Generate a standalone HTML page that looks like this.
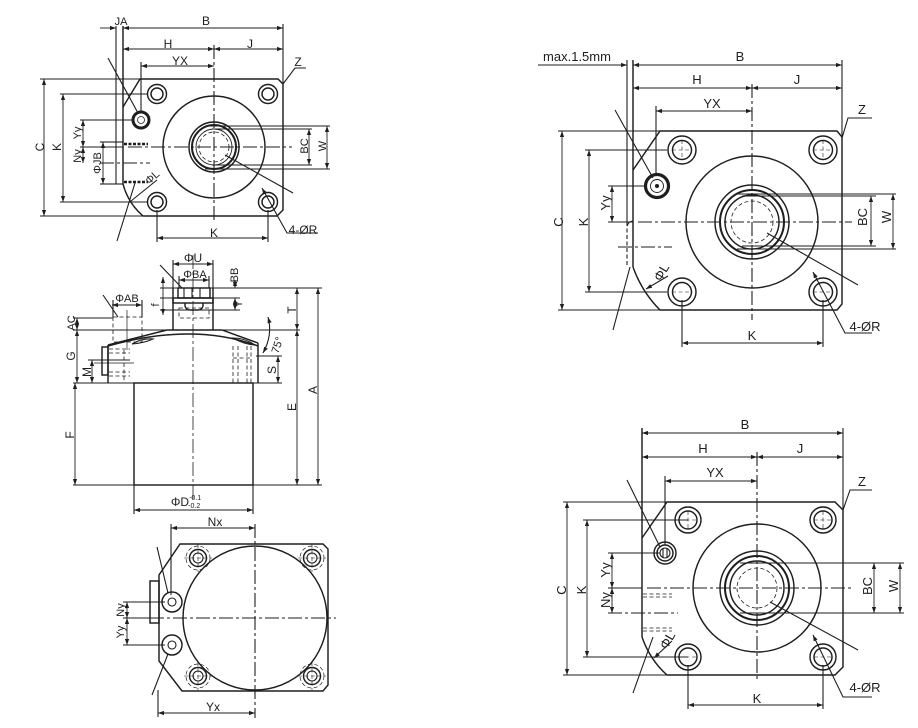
<!DOCTYPE html>
<html><head><meta charset="utf-8"><style>
html,body{margin:0;padding:0;background:#fff}
svg{display:block}
.l{stroke:#1e1e1e;stroke-width:1.1;fill:none}
.k{stroke-width:1.45}
.d{stroke-dasharray:4 2.5}
.c{stroke-dasharray:14 3 3 3}
text{font-family:"Liberation Sans",sans-serif;fill:#1e1e1e;font-size:12px}
.s{font-size:11px}
.m{font-size:13px}
</style></head><body>
<svg width="918" height="728" viewBox="0 0 918 728" xmlns="http://www.w3.org/2000/svg">
<defs><marker id="a" viewBox="0 0 10 10" refX="10" refY="5" markerWidth="7" markerHeight="6" orient="auto-start-reverse" markerUnits="userSpaceOnUse"><path d="M0,1.5 L10,5 L0,8.5z" fill="#1e1e1e"/></marker></defs>

<!-- ================= TOP-LEFT ================= -->
<g class="l">
<path class="k" d="M123,107 L140,79 L278,79 L283,84 L283,210 L277,216 L143,216 Q128,203 123,184"/>
<line class="k" x1="123" y1="26" x2="123" y2="184"/>
<line x1="116" y1="26" x2="116" y2="184"/>
<line x1="116" y1="184" x2="123" y2="184"/>
<line x1="116" y1="142" x2="123" y2="142"/>
<line x1="283" y1="24" x2="283" y2="84"/>
<line x1="40" y1="79" x2="140" y2="79"/>
<line x1="40" y1="216" x2="143" y2="216"/>
<line x1="60" y1="94" x2="148" y2="94"/>
<line x1="60" y1="202" x2="148" y2="202"/>
<line x1="80" y1="120" x2="133" y2="120"/>
<line x1="80" y1="147" x2="123" y2="147"/>
<line class="c" x1="128" y1="147" x2="292" y2="147"/>
<line class="c" x1="100" y1="163" x2="150" y2="163"/>
<line x1="100" y1="142" x2="116" y2="142"/>
<line x1="100" y1="184" x2="116" y2="184"/>
<line x1="141" y1="62" x2="141" y2="112"/>
<line class="c" x1="214" y1="45" x2="214" y2="222"/>
<line x1="205" y1="126" x2="330" y2="126"/>
<line x1="205" y1="169" x2="330" y2="169"/>
<line x1="212" y1="129" x2="312" y2="129"/>
<line x1="212" y1="165" x2="312" y2="165"/>
<line x1="157" y1="210" x2="157" y2="242"/>
<line x1="268" y1="210" x2="268" y2="242"/>
<line stroke-width="2.5" stroke-dasharray="3 1.5" x1="124" y1="144" x2="148" y2="144"/>
<line stroke-width="2.5" stroke-dasharray="3 1.5" x1="124" y1="182" x2="148" y2="182"/>
<g class="k">
<circle cx="157" cy="94" r="9.5"/><circle cx="157" cy="94" r="6"/>
<circle cx="268" cy="94" r="9.5"/><circle cx="268" cy="94" r="6"/>
<circle cx="157" cy="202" r="9.5"/><circle cx="157" cy="202" r="6"/>
<circle cx="268" cy="202" r="9.5"/><circle cx="268" cy="202" r="6"/>
<circle cx="214" cy="147" r="51"/>
<circle cx="214" cy="147" r="25"/>
<circle cx="214" cy="147" r="22" stroke-width="2"/>
<circle cx="214" cy="147" r="18" stroke-width="0.9"/>
</g>
<circle class="d" cx="214" cy="147" r="15" stroke-width="0.8"/>
<circle cx="141" cy="120" r="8" stroke-width="3"/>
<circle cx="141" cy="120" r="3.5" stroke-width="0.8"/>
<line x1="108" y1="58" x2="138" y2="113"/>
<line x1="117" y1="241" x2="135" y2="183"/>
<line x1="131" y1="201" x2="157" y2="180"/>
<line x1="225" y1="155" x2="293" y2="193"/>
<polyline points="283,84 295,68 306,68"/>
<polyline points="318,233 287,233 262,188" marker-end="url(#a)"/>
<g marker-start="url(#a)" marker-end="url(#a)" stroke-width="0.9">
<line x1="123" y1="28" x2="283" y2="28"/>
<line x1="123" y1="49" x2="214" y2="49"/>
<line x1="214" y1="49" x2="283" y2="49"/>
<line x1="141" y1="66" x2="214" y2="66"/>
<line x1="44" y1="79" x2="44" y2="216"/>
<line x1="63" y1="94" x2="63" y2="202"/>
<line x1="83" y1="120" x2="83" y2="147"/>
<line x1="83" y1="147" x2="83" y2="163"/>
<line x1="103" y1="142" x2="103" y2="184"/>
<line x1="309" y1="129" x2="309" y2="165"/>
<line x1="327" y1="126" x2="327" y2="169"/>
<line x1="157" y1="238" x2="268" y2="238"/>
</g>
<line x1="100" y1="28" x2="116" y2="28" marker-end="url(#a)" stroke-width="0.9"/>
</g>
<g text-anchor="middle">
<text class="s" x="121" y="25">JA</text>
<text x="206" y="25">B</text>
<text x="168" y="48">H</text>
<text x="250" y="48">J</text>
<text x="180" y="65">YX</text>
<text x="298" y="66">Z</text>
<text x="303" y="234">4-ØR</text>
<text x="214" y="237">K</text>
<text transform="rotate(-90 40 147)" x="40" y="151">C</text>
<text transform="rotate(-90 57 147)" x="57" y="151">K</text>
<text class="s" transform="rotate(-90 77 133)" x="77" y="137">Yy</text>
<text class="s" transform="rotate(-90 77 156)" x="77" y="160">Ny</text>
<text class="s" transform="rotate(-90 97 163)" x="97" y="167">ΦJB</text>
<text class="s" transform="rotate(-42 152 177)" x="152" y="181">ΦL</text>
<text class="s" transform="rotate(-90 304 146)" x="304" y="150">BC</text>
<text class="s" transform="rotate(-90 322 146)" x="322" y="150">W</text>
</g>

<!-- ================= MIDDLE-LEFT ================= -->
<g class="l">
<line x1="173" y1="260" x2="173" y2="288"/>
<line x1="213" y1="260" x2="213" y2="288"/>
<line x1="179" y1="276" x2="179" y2="288"/>
<line x1="209" y1="276" x2="209" y2="288"/>
<line class="k" x1="173" y1="288" x2="173" y2="330"/>
<line class="k" x1="213" y1="288" x2="213" y2="330"/>
<rect class="k" x="178" y="288" width="32" height="10"/>
<line x1="184" y1="288" x2="184" y2="298"/>
<line x1="192" y1="288" x2="192" y2="298"/>
<line x1="200" y1="288" x2="200" y2="298"/>
<rect class="k" x="173" y="298" width="40" height="5"/>
<path class="k" d="M185,303 L185,306 Q186,310 190,310 L198,310 Q202,310 203,306 L203,303"/>
<rect class="d" x="179" y="308" width="30" height="10" stroke-width="0.8"/>
<line x1="160" y1="288" x2="322" y2="288"/>
<line x1="160" y1="298" x2="240" y2="298"/>
<line x1="160" y1="310" x2="240" y2="310"/>
<line x1="73" y1="330" x2="300" y2="330"/>
<path class="k" d="M108,345 L167,330 L222,330 L258,343"/>
<path class="k" d="M108,346 Q193,322 258,346"/>
<path d="M132,344 Q142,338 153,339 Q144,343 132,344 Z"/>
<path d="M233,338 Q245,338 255,345 Q243,344 233,338 Z"/>
<line class="k" x1="108" y1="345" x2="108" y2="383"/>
<rect class="k" x="102" y="347" width="6" height="28"/>
<line class="k" x1="258" y1="343" x2="258" y2="383"/>
<g class="d" stroke-width="0.8">
<line x1="109" y1="349" x2="130" y2="349"/><line x1="109" y1="353" x2="130" y2="353"/>
<line x1="109" y1="372" x2="130" y2="372"/><line x1="109" y1="376" x2="130" y2="376"/>
<line x1="124" y1="350" x2="124" y2="383"/>
<line x1="233" y1="346" x2="233" y2="383"/><line x1="238" y1="346" x2="238" y2="383"/>
<line x1="247" y1="346" x2="247" y2="383"/><line x1="251" y1="346" x2="251" y2="383"/>
<line x1="233" y1="358" x2="251" y2="358"/>
</g>
<line x1="94" y1="363" x2="134" y2="363" stroke-width="0.8"/>
<line x1="73" y1="383" x2="282" y2="383"/>
<rect class="k" x="134" y="383" width="119" height="102"/>
<line x1="73" y1="485" x2="322" y2="485"/>
<line x1="256" y1="356" x2="282" y2="356"/>
<line x1="88" y1="360" x2="130" y2="360"/>
<line x1="73" y1="318" x2="113" y2="318"/>
<rect class="d" x="113" y="317" width="29" height="25" stroke-width="0.8"/>
<line x1="113" y1="300" x2="113" y2="317"/>
<line x1="142" y1="300" x2="142" y2="317"/>
<line x1="127" y1="310" x2="127" y2="350" stroke-width="0.7"/>
<line x1="134" y1="485" x2="134" y2="514"/>
<line x1="253" y1="485" x2="253" y2="514"/>
<line class="c" x1="193" y1="255" x2="193" y2="500" stroke-width="0.8"/>
<line x1="160" y1="265" x2="182" y2="288"/>
<line x1="103" y1="295" x2="118" y2="317"/>
<path d="M268,317 Q273,335 263,353" marker-start="url(#a)" marker-end="url(#a)"/>
<g marker-start="url(#a)" marker-end="url(#a)" stroke-width="0.9">
<line x1="173" y1="264" x2="213" y2="264"/>
<line x1="179" y1="280" x2="209" y2="280"/>
<line x1="235" y1="280" x2="235" y2="288"/>
<line x1="235" y1="298" x2="235" y2="310"/>
<line x1="163" y1="277" x2="163" y2="315"/>
<line x1="112" y1="305" x2="142" y2="305"/>
<line x1="77" y1="318" x2="77" y2="330"/>
<line x1="77" y1="330" x2="77" y2="383"/>
<line x1="92" y1="360" x2="92" y2="383"/>
<line x1="75" y1="383" x2="75" y2="485"/>
<line x1="297" y1="288" x2="297" y2="330"/>
<line x1="297" y1="330" x2="297" y2="485"/>
<line x1="318" y1="288" x2="318" y2="485"/>
<line x1="278" y1="356" x2="278" y2="383"/>
<line x1="134" y1="510" x2="253" y2="510"/>
</g>
</g>
<g text-anchor="middle">
<text x="193" y="262">ΦU</text>
<text class="s" x="195" y="278">ΦBA</text>
<text class="s" x="127" y="302">ΦAB</text>
<text class="s" transform="rotate(-90 234 275)" x="234" y="279">BB</text>
<text class="s" transform="rotate(-90 238 304)" x="238" y="308">Y</text>
<text class="s" transform="rotate(-90 155 305)" x="155" y="309">f</text>
<text class="s" transform="rotate(-90 71 323)" x="71" y="327">AC</text>
<text transform="rotate(-90 71 356)" x="71" y="360">G</text>
<text transform="rotate(-90 87 372)" x="87" y="376">M</text>
<text transform="rotate(-90 70 435)" x="70" y="439">F</text>
<text transform="rotate(-90 292 310)" x="292" y="314">T</text>
<text transform="rotate(-90 292 407)" x="292" y="411">E</text>
<text transform="rotate(-90 313 390)" x="313" y="394">A</text>
<text transform="rotate(-90 272 370)" x="272" y="374">S</text>
<text class="s" transform="rotate(-72 277 345)" x="277" y="349">75°</text>
<text x="186" y="506">ΦD<tspan font-size="7" dy="-6">-0.1</tspan><tspan font-size="7" dx="-13" dy="8">-0.2</tspan></text>
</g>

<!-- ================= BOTTOM-LEFT ================= -->
<g class="l">
<path class="k" d="M180,544 L323,544 L328,549 L328,685 L323,691 L182,691 L159,661 L159,575 Z"/>
<circle class="k" cx="255" cy="618" r="72"/>
<rect class="k" x="150" y="581" width="9" height="42"/>
<circle class="k" cx="172" cy="602" r="10"/><circle cx="172" cy="602" r="4"/>
<circle class="k" cx="172" cy="645" r="10"/><circle cx="172" cy="645" r="4"/>
<g>
<circle class="k" cx="198" cy="558" r="8.5"/><circle cx="198" cy="558" r="5"/><circle class="d" cx="198" cy="558" r="12" stroke-width="0.7"/>
<circle class="k" cx="312" cy="558" r="8.5"/><circle cx="312" cy="558" r="5"/><circle class="d" cx="312" cy="558" r="12" stroke-width="0.7"/>
<circle class="k" cx="198" cy="676" r="8.5"/><circle cx="198" cy="676" r="5"/><circle class="d" cx="198" cy="676" r="12" stroke-width="0.7"/>
<circle class="k" cx="312" cy="676" r="8.5"/><circle cx="312" cy="676" r="5"/><circle class="d" cx="312" cy="676" r="12" stroke-width="0.7"/>
</g>
<g class="d" stroke-width="0.6">
<line x1="184" y1="558" x2="212" y2="558"/><line x1="198" y1="544" x2="198" y2="572"/>
<line x1="298" y1="558" x2="326" y2="558"/><line x1="312" y1="544" x2="312" y2="572"/>
<line x1="184" y1="676" x2="212" y2="676"/><line x1="198" y1="662" x2="198" y2="690"/>
<line x1="298" y1="676" x2="326" y2="676"/><line x1="312" y1="662" x2="312" y2="690"/>
</g>
<line x1="171" y1="524" x2="171" y2="595"/>
<line class="c" x1="255" y1="524" x2="255" y2="718"/>
<line x1="123" y1="602" x2="165" y2="602"/>
<line x1="123" y1="645" x2="165" y2="645"/>
<line x1="123" y1="618" x2="150" y2="618"/>
<line class="c" x1="150" y1="618" x2="336" y2="618"/>
<line x1="158" y1="690" x2="158" y2="717"/>
<line x1="157" y1="547" x2="168" y2="593"/>
<line x1="168" y1="654" x2="152" y2="695"/>
<g marker-start="url(#a)" marker-end="url(#a)" stroke-width="0.9">
<line x1="171" y1="528" x2="255" y2="528"/>
<line x1="158" y1="713" x2="255" y2="713"/>
<line x1="127" y1="602" x2="127" y2="618"/>
<line x1="127" y1="618" x2="127" y2="645"/>
</g>
</g>
<g text-anchor="middle">
<text x="215" y="526">Nx</text>
<text x="213" y="711">Yx</text>
<text class="s" transform="rotate(-90 120 610)" x="120" y="614">Ny</text>
<text class="s" transform="rotate(-90 120 632)" x="120" y="636">Yy</text>
</g>

<!-- ================= TOP-RIGHT ================= -->
<g class="l">
<path class="k" d="M633,170 L660,131 L837,131 L842,137 L842,304 L837,310 L660,310 Q642,292 633,267"/>
<line class="k" x1="633" y1="60" x2="633" y2="267"/>
<line x1="627" y1="60" x2="627" y2="222"/>
<line class="d" x1="627" y1="222" x2="627" y2="267"/>
<path d="M627,226 Q629,221 633,221"/>
<line x1="842" y1="60" x2="842" y2="137"/>
<line x1="558" y1="131" x2="660" y2="131"/>
<line x1="558" y1="310" x2="660" y2="310"/>
<line x1="585" y1="150" x2="667" y2="150"/>
<line x1="585" y1="292" x2="667" y2="292"/>
<line x1="608" y1="186" x2="645" y2="186"/>
<line x1="608" y1="222" x2="633" y2="222"/>
<line class="c" x1="638" y1="222" x2="852" y2="222"/>
<line class="c" x1="618" y1="247" x2="672" y2="247"/>
<line x1="656" y1="106" x2="656" y2="176"/>
<line class="c" x1="752" y1="84" x2="752" y2="320"/>
<line x1="737" y1="194" x2="896" y2="194"/>
<line x1="737" y1="249" x2="896" y2="249"/>
<line x1="742" y1="196" x2="876" y2="196"/>
<line x1="742" y1="246" x2="876" y2="246"/>
<line x1="682" y1="300" x2="682" y2="347"/>
<line x1="823" y1="300" x2="823" y2="347"/>
<g class="k">
<circle cx="682" cy="150" r="14"/><circle cx="682" cy="150" r="9.5"/>
<circle cx="823" cy="150" r="14"/><circle cx="823" cy="150" r="9.5"/>
<circle cx="682" cy="292" r="14"/><circle cx="682" cy="292" r="9.5"/>
<circle cx="823" cy="292" r="14"/><circle cx="823" cy="292" r="9.5"/>
<circle cx="752" cy="222" r="66"/>
<circle cx="752" cy="222" r="37"/>
<circle cx="752" cy="222" r="32" stroke-width="2"/>
<circle cx="752" cy="222" r="27"/>
</g>
<circle class="d" cx="752" cy="222" r="21" stroke-width="0.8"/>
<g class="d" stroke-width="0.6">
<line x1="672" y1="150" x2="692" y2="150"/><line x1="682" y1="140" x2="682" y2="160"/>
<line x1="813" y1="150" x2="833" y2="150"/><line x1="823" y1="140" x2="823" y2="160"/>
<line x1="672" y1="292" x2="692" y2="292"/>
<line x1="813" y1="292" x2="833" y2="292"/>
</g>
<circle cx="657" cy="186" r="11.5" stroke-width="3.2"/>
<circle cx="657" cy="186" r="6.5" stroke-width="0.9"/>
<circle cx="657" cy="186" r="1.5" fill="#1e1e1e"/>
<line x1="615" y1="110" x2="653" y2="178"/>
<line x1="613" y1="330" x2="630" y2="267"/>
<line x1="668" y1="276" x2="646" y2="289" marker-end="url(#a)"/>
<line x1="767" y1="233" x2="858" y2="285"/>
<polyline points="842,138 848,118 872,118"/>
<polyline points="872,333 845,333 813,272" marker-end="url(#a)"/>
<line x1="538" y1="65" x2="627" y2="65" marker-end="url(#a)" stroke-width="0.9"/>
<g marker-start="url(#a)" marker-end="url(#a)" stroke-width="0.9">
<line x1="633" y1="65" x2="842" y2="65"/>
<line x1="633" y1="88" x2="752" y2="88"/>
<line x1="752" y1="88" x2="842" y2="88"/>
<line x1="656" y1="111" x2="752" y2="111"/>
<line x1="562" y1="131" x2="562" y2="310"/>
<line x1="589" y1="150" x2="589" y2="292"/>
<line x1="612" y1="186" x2="612" y2="222"/>
<line x1="871" y1="196" x2="871" y2="246"/>
<line x1="893" y1="194" x2="893" y2="249"/>
<line x1="682" y1="343" x2="823" y2="343"/>
</g>
</g>
<g text-anchor="middle" class="m">
<text class="m" x="577" y="61">max.1.5mm</text>
<text class="m" x="740" y="61">B</text>
<text class="m" x="697" y="84">H</text>
<text class="m" x="797" y="84">J</text>
<text class="m" x="712" y="108">YX</text>
<text class="m" x="862" y="114">Z</text>
<text class="m" x="865" y="331">4-ØR</text>
<text class="m" x="752" y="340">K</text>
<text class="m" transform="rotate(-90 558 222)" x="558" y="227">C</text>
<text class="m" transform="rotate(-90 583 222)" x="583" y="227">K</text>
<text class="m" transform="rotate(-90 605 203)" x="605" y="208">Yy</text>
<text class="m" transform="rotate(-60 661 272)" x="661" y="277">ΦL</text>
<text class="m" transform="rotate(-90 862 217)" x="862" y="222">BC</text>
<text class="m" transform="rotate(-90 886 217)" x="886" y="222">W</text>
</g>

<!-- ================= BOTTOM-RIGHT ================= -->
<g class="l">
<path class="k" d="M642,538 L667,502 L835,502 L843,510 L843,667 L835,675 L667,675 Q650,660 642,637"/>
<line class="k" x1="642" y1="428" x2="642" y2="637"/>
<line x1="843" y1="428" x2="843" y2="510"/>
<line x1="563" y1="502" x2="667" y2="502"/>
<line x1="563" y1="675" x2="667" y2="675"/>
<line x1="583" y1="520" x2="688" y2="520"/>
<line x1="583" y1="657" x2="688" y2="657"/>
<line x1="608" y1="553" x2="660" y2="553"/>
<line x1="608" y1="588" x2="642" y2="588"/>
<line class="c" x1="647" y1="588" x2="852" y2="588"/>
<line class="c" x1="608" y1="613" x2="678" y2="613"/>
<line x1="665" y1="476" x2="665" y2="545"/>
<line class="c" x1="757" y1="452" x2="757" y2="682"/>
<line x1="740" y1="563" x2="904" y2="563"/>
<line x1="740" y1="613" x2="904" y2="613"/>
<line x1="688" y1="665" x2="688" y2="709"/>
<line x1="823" y1="665" x2="823" y2="709"/>
<g class="d" stroke-width="0.8">
<line x1="643" y1="594" x2="672" y2="594"/><line x1="643" y1="597" x2="672" y2="597"/>
<line x1="643" y1="628" x2="672" y2="628"/><line x1="643" y1="631" x2="672" y2="631"/>
</g>
<g class="k">
<circle cx="688" cy="520" r="13"/><circle cx="688" cy="520" r="9"/>
<circle cx="823" cy="520" r="13"/><circle cx="823" cy="520" r="9"/>
<circle cx="688" cy="657" r="13"/><circle cx="688" cy="657" r="9"/>
<circle cx="823" cy="657" r="13"/><circle cx="823" cy="657" r="9"/>
<circle cx="757" cy="588" r="64"/>
<circle cx="757" cy="588" r="37"/>
<circle cx="757" cy="588" r="32" stroke-width="2"/>
<circle cx="757" cy="588" r="27"/>
</g>
<circle class="d" cx="757" cy="588" r="20" stroke-width="0.8"/>
<g class="d" stroke-width="0.6">
<line x1="679" y1="520" x2="697" y2="520"/><line x1="688" y1="511" x2="688" y2="529"/>
<line x1="814" y1="520" x2="832" y2="520"/><line x1="823" y1="511" x2="823" y2="529"/>
<line x1="679" y1="657" x2="697" y2="657"/>
<line x1="814" y1="657" x2="832" y2="657"/>
</g>
<circle class="k" cx="665" cy="553" r="11"/>
<circle cx="665" cy="553" r="8" stroke-width="1.5"/>
<circle cx="665" cy="553" r="5"/>
<line x1="663" y1="548" x2="663" y2="558"/><line x1="667" y1="548" x2="667" y2="558"/>
<line x1="627" y1="480" x2="660" y2="547"/>
<line x1="633" y1="693" x2="653" y2="637"/>
<line x1="672" y1="641" x2="654" y2="658" marker-end="url(#a)"/>
<line x1="770" y1="602" x2="858" y2="650"/>
<polyline points="843,510 850,490 872,490"/>
<polyline points="872,697 843,697 813,635" marker-end="url(#a)"/>
<g marker-start="url(#a)" marker-end="url(#a)" stroke-width="0.9">
<line x1="642" y1="433" x2="843" y2="433"/>
<line x1="642" y1="457" x2="757" y2="457"/>
<line x1="757" y1="457" x2="843" y2="457"/>
<line x1="665" y1="481" x2="757" y2="481"/>
<line x1="567" y1="502" x2="567" y2="675"/>
<line x1="587" y1="520" x2="587" y2="657"/>
<line x1="612" y1="553" x2="612" y2="588"/>
<line x1="612" y1="588" x2="612" y2="613"/>
<line x1="874" y1="563" x2="874" y2="613"/>
<line x1="900" y1="563" x2="900" y2="613"/>
<line x1="688" y1="705" x2="823" y2="705"/>
</g>
</g>
<g text-anchor="middle">
<text class="m" x="745" y="429">B</text>
<text class="m" x="703" y="453">H</text>
<text class="m" x="800" y="453">J</text>
<text class="m" x="715" y="477">YX</text>
<text class="m" x="862" y="486">Z</text>
<text class="m" x="865" y="692">4-ØR</text>
<text class="m" x="757" y="703">K</text>
<text class="m" transform="rotate(-90 561 590)" x="561" y="595">C</text>
<text class="m" transform="rotate(-90 581 590)" x="581" y="595">K</text>
<text class="m" transform="rotate(-90 605 570)" x="605" y="575">Yy</text>
<text class="m" transform="rotate(-90 605 600)" x="605" y="605">Ny</text>
<text class="m" transform="rotate(-60 667 640)" x="667" y="645">ΦL</text>
<text class="m" transform="rotate(-90 867 586)" x="867" y="591">BC</text>
<text class="m" transform="rotate(-90 893 586)" x="893" y="591">W</text>
</g>
</svg>
</body></html>
